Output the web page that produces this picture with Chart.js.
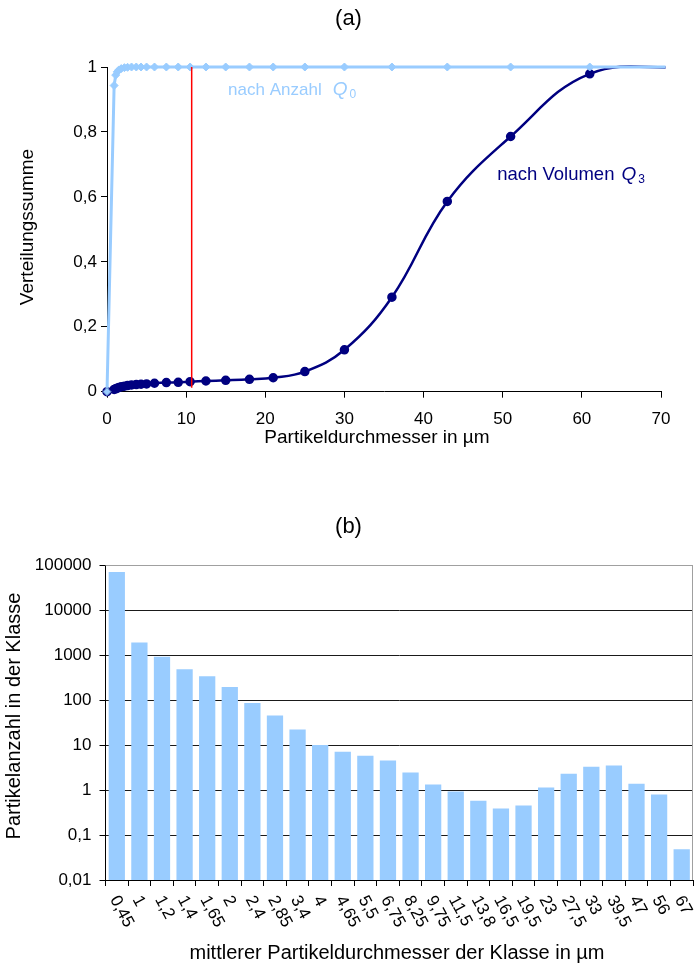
<!DOCTYPE html>
<html>
<head>
<meta charset="utf-8">
<script src="https://cdn.jsdelivr.net/npm/chart.js@4.4.0/dist/chart.umd.min.js"></script>
<style>
  html, body { margin: 0; padding: 0; background: #fff; }
  #wrapA { position: absolute; left: 0; top: 0; width: 697px; height: 470px; }
  #wrapB { position: absolute; left: 0; top: 470px; width: 697px; height: 500px; }
</style>
</head>
<body>
<div id="wrapA"><canvas id="chartA"></canvas></div>
<div id="wrapB"><canvas id="chartB"></canvas></div>
<script>
// ---------- Data (a): cumulative distributions over class upper bounds ----------
const classBounds = [0, 0.9, 1.1, 1.3, 1.5, 1.8, 2.2, 2.6, 3.1, 3.7, 4.3, 5, 6, 7.5, 9, 10.5, 12.5, 15, 18, 21, 25, 30, 36, 43, 51, 61, 73];
const q0Values = [0, 0.943, 0.975, 0.985, 0.991, 0.995, 0.998, 0.999, 1, 1, 1, 1, 1, 1, 1, 1, 1, 1, 1, 1, 1, 1, 1, 1, 1, 1, 1];
const q3Values = [0, 0.007, 0.009, 0.011, 0.013, 0.015, 0.017, 0.019, 0.021, 0.022, 0.023, 0.024, 0.026, 0.028, 0.029, 0.031, 0.033, 0.035, 0.038, 0.043, 0.062, 0.129, 0.291, 0.586, 0.786, 0.979, 1];
const markerX = [10.7, 10.7];
const markerY = [0.012, 1];
const yTicksA = [0, 0.2, 0.4, 0.6, 0.8, 1];
const xTicksA = [0, 10, 20, 30, 40, 50, 60, 70];

// ---------- Data (b): particle count per class ----------
const classMidLabels = ['0,45', '1', '1,2', '1,4', '1,65', '2', '2,4', '2,85', '3,4', '4', '4,65', '5,5', '6,75', '8,25', '9,75', '11,5', '13,8', '16,5', '19,5', '23', '27,5', '33', '39,5', '47', '56', '67'];
const particleCounts = [70000, 1900, 920, 480, 335, 195, 86, 45, 22, 10, 7.1, 5.8, 4.5, 2.45, 1.32, 0.93, 0.58, 0.39, 0.45, 1.13, 2.3, 3.3, 3.5, 1.38, 0.79, 0.048];
const yTicksB = [0.01, 0.1, 1, 10, 100, 1000, 10000, 100000];

const FONT = '"Liberation Sans", Arial, Helvetica, sans-serif';
Chart.defaults.font.family = FONT;
Chart.defaults.color = '#000';

const fmtComma = v => {
  if (v === 0) return '0';
  if (v === 1) return '1';
  return String(Math.round(v * 100) / 100).replace('.', ',');
};

// ---------- Chart (a) ----------
const textPluginA = {
  id: 'textA',
  afterDraw(chart) {
    const { ctx, scales: { x, y }, width } = chart;
    ctx.save();
    ctx.fillStyle = '#000';
    ctx.textAlign = 'center';
    ctx.textBaseline = 'middle';
    ctx.font = '22px ' + FONT;
    ctx.fillText('(a)', width / 2, 19);
    ctx.font = '19px ' + FONT;
    ctx.fillText('Partikeldurchmesser in µm', 377, 438);
    ctx.save();
    ctx.translate(28, 227);
    ctx.rotate(-Math.PI / 2);
    ctx.fillText('Verteilungssumme', 0, 0);
    ctx.restore();

    function label(txt, size, gap, sub, color, xv, yv) {
      const px = x.getPixelForValue(xv), py = y.getPixelForValue(yv);
      ctx.fillStyle = color;
      ctx.textAlign = 'left';
      ctx.textBaseline = 'alphabetic';
      ctx.font = size + 'px ' + FONT;
      ctx.fillText(txt, px, py);
      let w = ctx.measureText(txt).width + gap;
      ctx.font = 'italic 19px ' + FONT;
      ctx.fillText('Q', px + w, py);
      w += ctx.measureText('Q').width + 2;
      ctx.font = '12px ' + FONT;
      ctx.fillText(sub, px + w, py + 3);
    }
    label('nach Anzahl', 17, 11, '0', '#99CCFF', 15.3, 0.915);
    label('nach Volumen', 18.5, 7, '3', '#000080', 49.3, 0.652);
    ctx.restore();
  }
};

new Chart(document.getElementById('chartA'), {
  type: 'line',
  data: {
    datasets: [
      {
        label: 'Marker',
        data: markerX.map((v, i) => ({ x: v, y: markerY[i] })),
        borderColor: '#FF0000',
        borderWidth: 1.5,
        pointRadius: 0,
        tension: 0,
        order: 0
      },
      {
        label: 'nach Anzahl Q0',
        data: classBounds.map((v, i) => ({ x: v, y: q0Values[i] })),
        borderColor: '#99CCFF',
        backgroundColor: '#99CCFF',
        borderWidth: 3,
        pointStyle: 'rectRot',
        pointRadius: 4,
        pointBackgroundColor: '#99CCFF',
        pointBorderColor: ctx => ctx.dataIndex === 0 ? '#6A8CC8' : '#99CCFF',
        pointBorderWidth: 1,
        tension: 0,
        clip: { left: 8, top: 8, right: 4.5, bottom: 8 },
        order: 1
      },
      {
        label: 'nach Volumen Q3',
        data: classBounds.map((v, i) => ({ x: v, y: q3Values[i] })),
        borderColor: '#000080',
        backgroundColor: '#000080',
        borderWidth: 2.5,
        pointStyle: 'circle',
        pointRadius: 3.5,
        pointBackgroundColor: '#000080',
        pointBorderColor: '#000080',
        tension: 0.4,
        clip: { left: 8, top: 8, right: 4.5, bottom: 8 },
        order: 2
      }
    ]
  },
  options: {
    responsive: true,
    maintainAspectRatio: false,
    animation: false,
    devicePixelRatio: 1,
    layout: { padding: { left: 0, right: 36, top: 67, bottom: 0 } },
    plugins: { legend: { display: false }, tooltip: { enabled: false }, title: { display: false } },
    scales: {
      x: {
        type: 'linear',
        min: 0, max: 70,
        afterBuildTicks: s => { s.ticks = xTicksA.map(v => ({ value: v })); },
        ticks: { font: { size: 17 }, color: '#000', padding: 11, maxRotation: 0 },
        grid: { drawOnChartArea: false, drawTicks: true, tickLength: 6, color: '#000' },
        border: { display: true, color: '#000', width: 1 },
        afterFit: s => { s.height = 78.3; }
      },
      y: {
        type: 'linear',
        min: 0, max: 1,
        afterBuildTicks: s => { s.ticks = yTicksA.map(v => ({ value: v })); },
        ticks: { font: { size: 17 }, color: '#000', padding: 4, callback: v => fmtComma(v) },
        grid: { drawOnChartArea: false, drawTicks: true, tickLength: 6, color: '#000' },
        border: { display: true, color: '#000', width: 1 },
        afterFit: s => { s.width = 107; }
      }
    }
  },
  plugins: [textPluginA]
});

// ---------- Chart (b) ----------
const textPluginB = {
  id: 'textB',
  afterDraw(chart) {
    const { ctx, chartArea, scales: { x }, width } = chart;
    ctx.save();
    // right / top frame of plot area
    ctx.strokeStyle = '#A0A0A0';
    ctx.lineWidth = 1;
    ctx.beginPath();
    ctx.moveTo(chartArea.left, chartArea.top + 0.5);
    ctx.lineTo(chartArea.right - 0.5, chartArea.top + 0.5);
    ctx.lineTo(chartArea.right - 0.5, chartArea.bottom);
    ctx.stroke();

    ctx.fillStyle = '#000';
    ctx.textAlign = 'center';
    ctx.textBaseline = 'middle';
    ctx.font = '22px ' + FONT;
    ctx.fillText('(b)', width / 2, 57);
    ctx.font = '20px ' + FONT;
    ctx.fillText('mittlerer Partikeldurchmesser der Klasse in µm', 397, 483);
    ctx.save();
    ctx.translate(14, 246);
    ctx.rotate(-Math.PI / 2);
    ctx.fillText('Partikelanzahl in der Klasse', 0, 0);
    ctx.restore();

    // rotated category labels
    ctx.font = '17px ' + FONT;
    ctx.textAlign = 'left';
    ctx.textBaseline = 'middle';
    classMidLabels.forEach((lab, i) => {
      const px = x.getPixelForValue(i);
      ctx.save();
      ctx.translate(px - 3, chartArea.bottom + 17);
      ctx.rotate(62 * Math.PI / 180);
      ctx.fillText(lab, 0, 0);
      ctx.restore();
    });
    ctx.restore();
  }
};

new Chart(document.getElementById('chartB'), {
  type: 'bar',
  data: {
    labels: classMidLabels,
    datasets: [{
      label: 'Partikelanzahl',
      data: particleCounts,
      backgroundColor: '#99CCFF',
      borderWidth: 0,
      barPercentage: 0.72,
      categoryPercentage: 1
    }]
  },
  options: {
    responsive: true,
    maintainAspectRatio: false,
    animation: false,
    devicePixelRatio: 1,
    layout: { padding: { left: 0, right: 4, top: 95, bottom: 0 } },
    plugins: { legend: { display: false }, tooltip: { enabled: false }, title: { display: false } },
    scales: {
      x: {
        type: 'category',
        offset: true,
        ticks: { display: false, autoSkip: false },
        grid: { offset: true, drawOnChartArea: false, drawTicks: true, tickLength: 6, color: '#000' },
        border: { display: true, color: '#000', width: 1 },
        afterFit: s => { s.height = 90; }
      },
      y: {
        type: 'logarithmic',
        min: 0.01, max: 100000,
        afterBuildTicks: s => { s.ticks = yTicksB.map(v => ({ value: v, major: true })); },
        ticks: { font: { size: 17 }, color: '#000', padding: 8, callback: v => String(v).replace('.', ',') },
        grid: {
          drawOnChartArea: true, drawTicks: true, tickLength: 6, lineWidth: 1,
          color: ctx => (ctx.tick && ctx.tick.value === 100000) ? '#A0A0A0' : '#1A1A1A',
          tickColor: '#000'
        },
        border: { display: true, color: '#000', width: 1 },
        afterFit: s => { s.width = 105.5; }
      }
    }
  },
  plugins: [textPluginB]
});
</script>
</body>
</html>
